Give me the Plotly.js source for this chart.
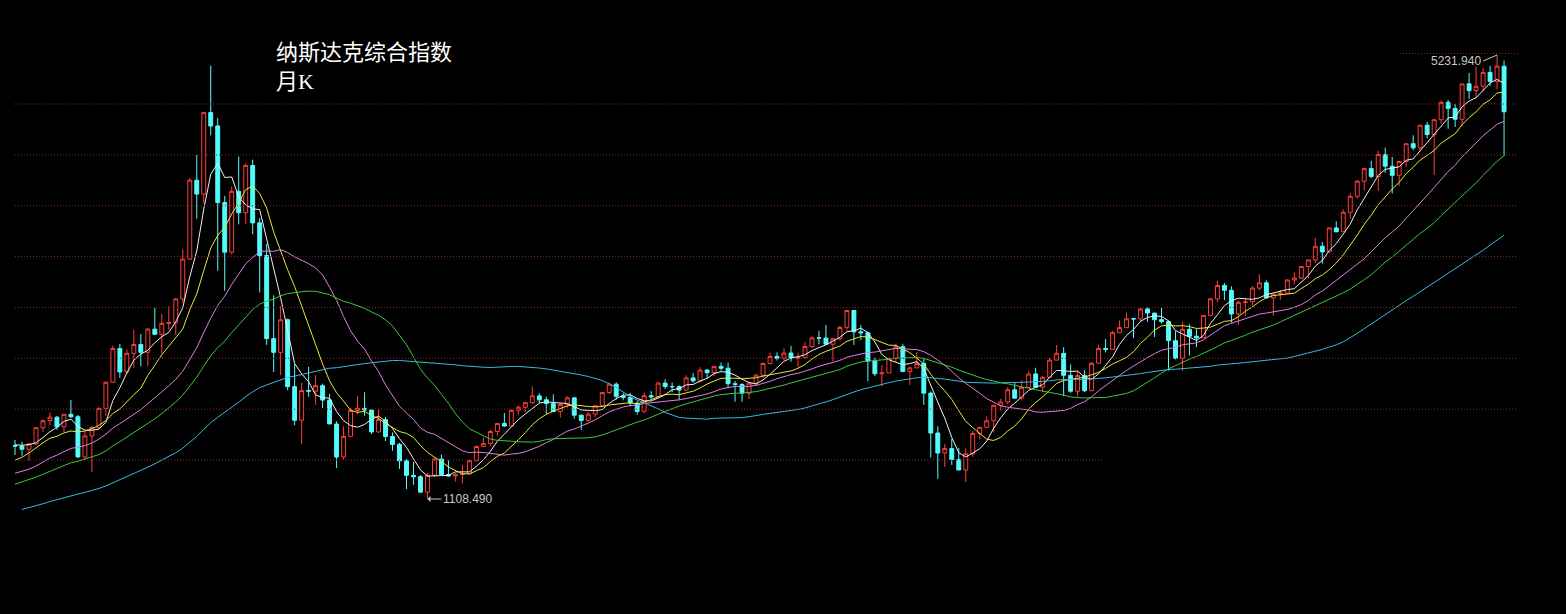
<!DOCTYPE html>
<html><head><meta charset="utf-8">
<script src="https://cdn.plot.ly/plotly-3.0.1.min.js"></script>
<style>html,body{margin:0;padding:0;background:#000;overflow:hidden;}#chart{width:1566px;height:614px;}</style>
</head><body><div id="chart"></div>
<script>
// NASDAQ Composite monthly K-line, 1997-11 .. 2015-08
const startYear = 1997, startMonth = 11;

// Monthly closes before the first candle (1993-01 .. 1997-10), used only for moving averages
const preCloses = [
  696.34, 670.77, 690.13, 661.42, 700.53, 703.95, 704.70, 742.84, 762.78, 779.26, 754.39, 776.80,
  800.47, 792.50, 743.46, 733.84, 735.19, 705.96, 722.16, 765.62, 764.29, 777.49, 750.32, 751.96,
  755.20, 793.73, 817.21, 843.98, 864.58, 933.45, 1001.21, 1020.11, 1043.54, 1036.06, 1059.20, 1052.13,
  1059.79, 1100.05, 1101.40, 1190.52, 1243.43, 1185.02, 1080.59, 1141.50, 1226.92, 1221.51, 1292.61, 1291.03,
  1379.85, 1309.00, 1221.70, 1260.76, 1400.32, 1442.07, 1593.81, 1587.32, 1685.69, 1593.61
];

const opens = [
  1603, 1600,
  1570, 1619, 1771, 1836, 1868, 1779, 1895, 1872, 1499, 1694, 1771, 1950,
  2193, 2506, 2288, 2461, 2543, 2471, 2686, 2638, 2739, 2746, 2966, 3336,
  4069, 3940, 4697, 4573, 3861, 3401, 3966, 3767, 4206, 3673, 3370, 2598,
  2470, 2773, 2152, 1840, 2116, 2110, 2161, 2027, 1805, 1499, 1690, 1931,
  1950, 1934, 1731, 1845, 1688, 1616, 1463, 1328, 1315, 1172, 1330, 1479,
  1336, 1321, 1338, 1341, 1464, 1596, 1623, 1735, 1810, 1787, 1932, 1960,
  2003, 2066, 2030, 1994, 1920, 1987, 2048, 1887, 1838, 1897, 1975, 2097,
  2175, 2062, 2052, 1999, 1922, 2068, 2057, 2185, 2152, 2152, 2120, 2233,
  2205, 2306, 2281, 2340, 2323, 2179, 2172, 2091, 2184, 2258, 2367, 2432,
  2415, 2464, 2416, 2422, 2525, 2605, 2603, 2546, 2596, 2702, 2859, 2661,
  2652, 2390, 2271, 2279, 2413, 2523, 2293, 2326, 2368, 2092, 1721, 1536,
  1577, 1476, 1378, 1529, 1717, 1774, 1835, 1979, 2009, 2122, 2045, 2145,
  2269, 2147, 2238, 2398, 2461, 2257, 2109, 2255, 2114, 2369, 2507, 2498,
  2653, 2700, 2782, 2781, 2874, 2835, 2774, 2756, 2579, 2415, 2684, 2620,
  2605, 2814, 2967, 3092, 3046, 2827, 2935, 2940, 3067, 3116, 2977, 3010,
  3020, 3142, 3160, 3268, 3329, 3456, 3403, 3626, 3590, 3771, 3920, 4060,
  4177, 4104, 4308, 4199, 4115, 4243, 4408, 4370, 4580, 4493, 4631, 4792,
  4736, 4635, 4964, 4901, 4941, 5070, 4987, 5128
];
const highs = [
  1656, 1640,
  1625, 1775, 1845, 1911, 1880, 1900, 2028, 1890, 1740, 1790, 1960, 2200,
  2533, 2550, 2497, 2680, 2640, 2696, 2882, 2826, 2900, 2975, 3428, 4090,
  4303, 4697, 5132.52, 4646, 3923, 4012, 4289, 4226, 4260, 3717, 3477, 3000,
  2901, 2783, 2363, 2188, 2335, 2260, 2180, 2085, 1831, 1784, 1956, 2065,
  2100, 1937, 1943, 1870, 1726, 1630, 1477, 1452, 1330, 1350, 1494, 1521,
  1467, 1350, 1426, 1473, 1608, 1677, 1754, 1812, 1907, 1941, 1977, 2010,
  2154, 2091, 2058, 2080, 2001, 2063, 2049, 1891, 1916, 1982, 2104, 2191,
  2191, 2096, 2095, 2017, 2097, 2110, 2198, 2220, 2191, 2165, 2259, 2278,
  2333, 2313, 2343, 2376, 2375, 2205, 2183, 2188, 2270, 2376, 2468, 2470,
  2509, 2531, 2466, 2566, 2620, 2670, 2724, 2604, 2716, 2861.51, 2860, 2725,
  2662, 2420, 2352, 2425, 2552, 2550, 2337, 2474, 2420, 2108, 1785, 1620,
  1665, 1584, 1579, 1738, 1780, 1877, 1983, 2039, 2148, 2186, 2208, 2295,
  2327, 2253, 2423, 2540, 2519, 2359, 2300, 2305, 2380, 2540, 2593, 2671,
  2767, 2841, 2790, 2888, 2887, 2838, 2887, 2768, 2666, 2754, 2735, 2687,
  2818, 2977, 3134, 3116, 3085, 2950, 2975, 3085, 3197, 3140, 3021, 3050,
  3150, 3214, 3271, 3330, 3533, 3496, 3627, 3688, 3798, 3947, 4070, 4177,
  4247, 4342, 4372, 4285, 4247, 4409, 4486, 4581, 4610, 4641, 4810, 4814,
  4777, 4965, 5065, 5120, 5112, 5132, 5231.94, 5180
];
const lows = [
  1517, 1510,
  1465, 1610, 1730, 1795, 1750, 1730, 1860, 1490, 1470, 1357, 1760, 1880,
  2188, 2233, 2265, 2325, 2340, 2345, 2630, 2460, 2680, 2632, 2930, 3330,
  3711, 3855, 4484, 3227, 3042, 3379, 3659, 3665, 3567, 3026, 2540, 2288,
  2260, 2119, 1794, 1619, 2058, 1982, 1953, 1805, 1396, 1475, 1683, 1896,
  1882, 1712, 1726, 1647, 1556, 1387, 1201, 1240, 1170, 1108.49, 1311, 1334,
  1314, 1271, 1253, 1340, 1462, 1593, 1601, 1696, 1777, 1787, 1886, 1915,
  1990, 1999, 1897, 1918, 1866, 1957, 1853, 1750, 1826, 1867, 1974, 2083,
  2030, 2025, 1968, 1890, 1904, 2040, 2050, 2130, 2101, 2026, 2118, 2190,
  2190, 2233, 2251, 2300, 2136, 2013, 2012, 2037, 2160, 2233, 2357, 2396,
  2396, 2383, 2331, 2412, 2510, 2545, 2540, 2386, 2579, 2671, 2540, 2584,
  2202, 2249, 2155, 2278, 2382, 2286, 2167, 2326, 1983, 1493, 1295, 1405,
  1425, 1377, 1265.52, 1498, 1660, 1770, 1728, 1930, 1987, 2040, 2025, 2140,
  2145, 2100, 2230, 2397, 2062, 2095, 2061, 2102, 2110, 2365, 2470, 2498,
  2653, 2700, 2603, 2750, 2754, 2613, 2739, 2300, 2405, 2298, 2441, 2519,
  2603, 2812, 2935, 2955, 2745, 2726, 2810, 2904, 3045, 2967, 2810, 2960,
  3020, 3105, 3150, 3154, 3300, 3295, 3403, 3588, 3588, 3712, 3897, 3973,
  4087, 3969, 4138, 3946, 4016, 4195, 4348, 4337, 4458, 4117, 4594, 4547,
  4563, 4571, 4825, 4831, 4892, 4944, 4910, 4292.14
];
const closes = [
  1600.55, 1570.35,
  1619.36, 1770.51, 1835.68, 1868.41, 1778.87, 1894.74, 1872.39, 1499.25, 1693.84, 1771.39, 1949.54, 2192.69,
  2505.89, 2288.03, 2461.40, 2542.85, 2470.52, 2686.12, 2638.49, 2739.35, 2746.16, 2966.43, 3336.16, 4069.31,
  3940.35, 4696.69, 4572.83, 3860.66, 3400.91, 3966.11, 3766.99, 4206.35, 3672.82, 3369.63, 2597.93, 2470.52,
  2772.73, 2151.83, 1840.26, 2116.24, 2110.49, 2160.54, 2027.13, 1805.43, 1498.80, 1690.20, 1930.58, 1950.40,
  1934.03, 1731.49, 1845.35, 1688.23, 1615.73, 1463.21, 1328.26, 1314.85, 1172.06, 1329.75, 1478.78, 1335.51,
  1320.91, 1337.52, 1341.17, 1464.31, 1595.91, 1622.80, 1735.02, 1810.45, 1786.94, 1932.21, 1960.26, 2003.37,
  2066.15, 2029.82, 1994.22, 1920.15, 1986.74, 2047.79, 1887.36, 1838.10, 1896.84, 1974.99, 2096.81, 2175.44,
  2062.41, 2051.72, 1999.23, 1921.65, 2068.22, 2056.96, 2184.83, 2152.09, 2151.69, 2120.30, 2232.82, 2205.32,
  2305.82, 2281.39, 2339.79, 2322.57, 2178.88, 2172.09, 2091.47, 2183.75, 2258.43, 2366.71, 2431.77, 2415.29,
  2463.93, 2416.15, 2421.64, 2525.09, 2604.52, 2603.23, 2546.27, 2596.36, 2701.50, 2859.12, 2660.96, 2652.28,
  2389.86, 2271.48, 2279.10, 2412.80, 2522.66, 2292.98, 2325.55, 2367.52, 2091.88, 1720.95, 1535.57, 1577.03,
  1476.42, 1377.84, 1528.59, 1717.30, 1774.33, 1835.04, 1978.50, 2009.06, 2122.42, 2045.11, 2144.60, 2269.15,
  2147.35, 2238.26, 2397.96, 2461.19, 2257.04, 2109.24, 2254.70, 2114.03, 2368.62, 2507.41, 2498.23, 2652.87,
  2700.08, 2782.27, 2781.07, 2873.54, 2835.30, 2773.52, 2756.38, 2579.46, 2415.40, 2684.41, 2620.34, 2605.15,
  2813.84, 2966.89, 3091.57, 3046.36, 2827.34, 2935.05, 2939.52, 3066.96, 3116.23, 2977.23, 3010.24, 3019.51,
  3142.13, 3160.19, 3267.52, 3328.79, 3455.91, 3403.25, 3626.37, 3589.87, 3771.48, 3919.71, 4059.89, 4176.59,
  4103.88, 4308.12, 4198.99, 4114.56, 4242.62, 4408.18, 4369.77, 4580.27, 4493.39, 4630.74, 4791.63, 4736.05,
  4635.24, 4963.53, 4900.88, 4941.42, 5070.03, 4986.87, 5128.28, 4705.00
];

const maPeriods = [5, 10, 20, 30, 60];
const maColors = ['#F0F0F0', '#E8E83C', '#E07FE0', '#3CC83C', '#3CB8E0'];
const titleText = '纳斯达克综合指数';
const subTitleText = '月K';

// month labels (categories)
const months = [];
for (let i = 0; i < closes.length; i++) {
  const m0 = startMonth - 1 + i;
  const y = startYear + Math.floor(m0 / 12);
  const m = (m0 % 12) + 1;
  months.push(y + '-' + (m < 10 ? '0' + m : m));
}

function movingAverage(n) {
  const all = preCloses.concat(closes);
  const off = preCloses.length;
  const out = [];
  for (let i = 0; i < closes.length; i++) {
    const end = off + i;
    if (end - n + 1 < 0) { out.push(null); continue; }
    let s = 0;
    for (let k = end - n + 1; k <= end; k++) s += all[k];
    out.push(s / n);
  }
  return out;
}

const W = 1566, H = 614;
const traces = [{
  type: 'candlestick',
  x: months, open: opens, high: highs, low: lows, close: closes,
  increasing: {line: {color: '#FF3C3C', width: 1}, fillcolor: '#000000'},
  decreasing: {line: {color: '#54FCFC', width: 1}, fillcolor: '#54FCFC'},
  whiskerwidth: 0,
  hoverinfo: 'skip',
  showlegend: false
}];
maPeriods.forEach((n, j) => {
  traces.push({
    type: 'scatter', mode: 'lines', x: months, y: movingAverage(n),
    line: {color: maColors[j], width: 1}, hoverinfo: 'skip', showlegend: false
  });
});

// extremes
let iMax = 0, iMin = 0;
for (let i = 0; i < highs.length; i++) {
  if (highs[i] > highs[iMax]) iMax = i;
  if (lows[i] < lows[iMin]) iMin = i;
}

// pixel -> paper helpers for decoration
const px = p => p / W;
const py = p => 1 - p / H;
const gridColor = '#8C2323';
const shapes = [];
const gridTop = 104, gridStep = 50.86;
for (let k = 0; k < 8; k++) {
  const yy = gridTop + k * gridStep;
  shapes.push({type: 'line', xref: 'paper', yref: 'paper', x0: px(15), x1: px(k === 7 ? 1102 : 1518),
    y0: py(yy), y1: py(yy), line: {color: gridColor, width: 1, dash: '1px,2px'}});
}
shapes.push({type: 'line', xref: 'paper', yref: 'paper', x0: px(1400), x1: px(1518),
  y0: py(53.5), y1: py(53.5), line: {color: gridColor, width: 1, dash: '1px,2px'}});

const labelFont = {family: 'Liberation Sans, Arial, sans-serif', size: 12, color: '#C8C8C8'};
const titleFont = {family: 'Liberation Serif, Noto Sans CJK SC, serif', size: 22, color: '#FFFFFF'};
const annotations = [
  {xref: 'paper', yref: 'paper', x: px(274), y: py(52), xanchor: 'left', yanchor: 'middle',
   text: titleText, showarrow: false, font: titleFont},
  {xref: 'paper', yref: 'paper', x: px(274), y: py(81), xanchor: 'left', yanchor: 'middle',
   text: subTitleText, showarrow: false, font: titleFont},
  {x: months[iMax], y: highs[iMax], xref: 'x', yref: 'y', text: highs[iMax].toFixed(3),
   showarrow: true, arrowhead: 0, arrowwidth: 1, arrowcolor: '#C8C8C8', ax: -14, ay: 6,
   xanchor: 'right', yanchor: 'middle', standoff: 0, font: labelFont},
  {x: months[iMin], y: lows[iMin], xref: 'x', yref: 'y', text: lows[iMin].toFixed(3),
   showarrow: true, arrowhead: 1, arrowsize: 1, arrowwidth: 1, arrowcolor: '#C8C8C8', ax: 14, ay: 0,
   xanchor: 'left', yanchor: 'middle', standoff: 0, font: labelFont}
];

const layout = {
  width: W, height: H,
  margin: {l: 0, r: 0, t: 0, b: 0, pad: 0},
  paper_bgcolor: '#000000', plot_bgcolor: '#000000',
  showlegend: false,
  boxgap: 0.2,
  xaxis: {type: 'category', range: [-2.1456, 221.86], visible: false, showgrid: false, zeroline: false,
          rangeslider: {visible: false}, fixedrange: true},
  yaxis: {range: [40.4, 5742.7], visible: false, showgrid: false, zeroline: false, fixedrange: true},
  shapes: shapes,
  annotations: annotations,
  hovermode: false
};

Plotly.newPlot('chart', traces, layout, {staticPlot: true, displayModeBar: false});
</script>
</body></html>
